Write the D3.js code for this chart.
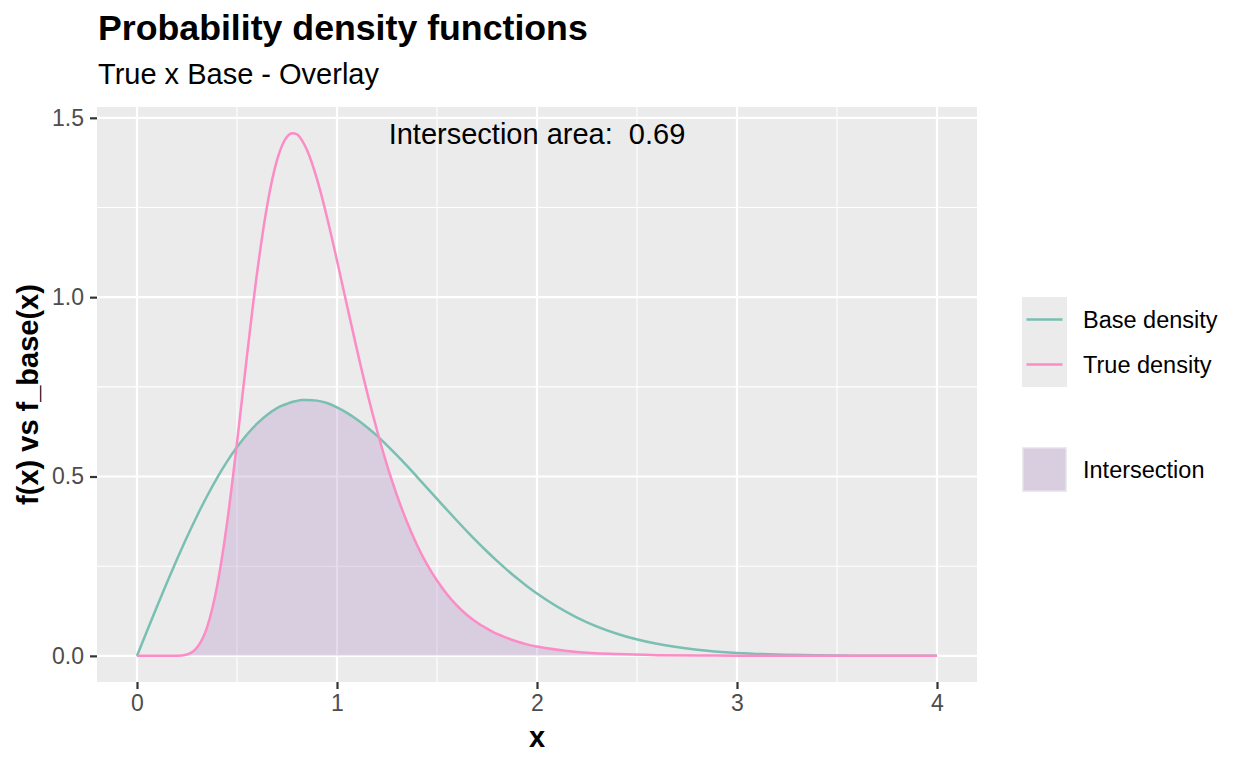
<!DOCTYPE html>
<html>
<head>
<meta charset="utf-8">
<script src="https://cdn.jsdelivr.net/npm/d3@7"></script>
<style>
  body { margin: 0; background: #fff; }
  text { font-family: "Liberation Sans", Arial, Helvetica, sans-serif; }
</style>
</head>
<body>
<div id="chart"></div>
<script>
// values
var xs = [0, 0.05, 0.1, 0.15, 0.2, 0.25, 0.3, 0.35, 0.4, 0.45, 0.5, 0.55, 0.6, 0.65, 0.7, 0.725, 0.75, 0.775, 0.8, 0.825, 0.85, 0.9, 0.95,
          1.0, 1.05, 1.1, 1.15, 1.2, 1.25, 1.3, 1.35, 1.4, 1.45, 1.5, 1.55, 1.6, 1.65, 1.7, 1.75, 1.8, 1.85, 1.9, 1.95,
          2.0, 2.2, 2.4, 2.6, 2.8, 3.0, 3.2, 3.4, 3.6, 3.8, 4.0];
var baseDens = [0, 0.0691, 0.1374, 0.2044, 0.2692, 0.3314, 0.3901, 0.4450, 0.4956, 0.5414, 0.5820, 0.6173, 0.6472, 0.6716, 0.6906, 0.6974, 0.7029, 0.7079, 0.7109, 0.7130, 0.7136, 0.7116, 0.7048,
          0.6929, 0.6776, 0.6590, 0.6376, 0.6140, 0.5867, 0.5587, 0.5294, 0.4991, 0.4684, 0.4376, 0.4068, 0.3767, 0.3471, 0.3184, 0.2909, 0.2646, 0.2397, 0.2162, 0.1943,
          0.1739, 0.1069, 0.0617, 0.0335, 0.0171, 0.0082, 0.0037, 0.0016, 0.0006, 0.0002, 0.0001];
var trueDens = [0, 0, 0, 0, 0.0003, 0.004, 0.023, 0.079, 0.193, 0.369, 0.594, 0.837, 1.066, 1.253, 1.382, 1.4225, 1.447, 1.4573, 1.454, 1.4371, 1.410, 1.329, 1.223,
          1.102, 0.977, 0.853, 0.736, 0.629, 0.532, 0.447, 0.373, 0.309, 0.255, 0.210, 0.172, 0.140, 0.114, 0.093, 0.076, 0.061, 0.050, 0.040, 0.032,
          0.026, 0.011, 0.005, 0.002, 0.001, 0.0004, 0.0002, 0.0001, 0, 0, 0];
var xTicks = [0, 1, 2, 3, 4];
var xMinor = [0.5, 1.5, 2.5, 3.5];
var yTicks = [0, 0.5, 1.0, 1.5];
var yMinor = [0.25, 0.75, 1.25];
var intersectionArea = 0.69;
var legendLines = ["Base density", "True density"];

var colBase = "#79bfb2", colTrue = "#fb8cc5", colFill = "#b497c8";

var W = 1248, H = 768;
var panel = { left: 97, right: 977, top: 107, bottom: 682 };

var data = xs.map(function(x, i) { return { x: x, base: baseDens[i], tru: trueDens[i] }; });

// ggplot-like 5% expansion
var xExt = d3.extent(xs);
var xPad = (xExt[1] - xExt[0]) * 0.05;
var yMax = d3.max(trueDens);
var yPad = yMax * 0.05;

var x = d3.scaleLinear().domain([xExt[0] - xPad, xExt[1] + xPad]).range([panel.left, panel.right]);
var y = d3.scaleLinear().domain([-yPad, yMax + yPad]).range([panel.bottom, panel.top]);

var svg = d3.select("#chart").append("svg")
    .attr("width", W).attr("height", H);

// panel background
svg.append("rect")
    .attr("x", panel.left).attr("y", panel.top)
    .attr("width", panel.right - panel.left).attr("height", panel.bottom - panel.top)
    .attr("fill", "#ebebeb");

// grid
var grid = svg.append("g");
xMinor.forEach(function(v) {
  grid.append("line").attr("x1", x(v)).attr("x2", x(v)).attr("y1", panel.top).attr("y2", panel.bottom)
      .attr("stroke", "#fff").attr("stroke-width", 1.1);
});
yMinor.forEach(function(v) {
  grid.append("line").attr("y1", y(v)).attr("y2", y(v)).attr("x1", panel.left).attr("x2", panel.right)
      .attr("stroke", "#fff").attr("stroke-width", 1.1);
});
xTicks.forEach(function(v) {
  grid.append("line").attr("x1", x(v)).attr("x2", x(v)).attr("y1", panel.top).attr("y2", panel.bottom)
      .attr("stroke", "#fff").attr("stroke-width", 2.2);
});
yTicks.forEach(function(v) {
  grid.append("line").attr("y1", y(v)).attr("y2", y(v)).attr("x1", panel.left).attr("x2", panel.right)
      .attr("stroke", "#fff").attr("stroke-width", 2.2);
});

// intersection = area under true curve clipped by area under base curve
var areaBase = d3.area().curve(d3.curveMonotoneX)
    .x(function(d) { return x(d.x); }).y0(y(0)).y1(function(d) { return y(d.base); });
var areaTrue = d3.area().curve(d3.curveMonotoneX)
    .x(function(d) { return x(d.x); }).y0(y(0)).y1(function(d) { return y(d.tru); });

svg.append("clipPath").attr("id", "clipBase")
  .append("path").datum(data).attr("d", areaBase);

svg.append("path").datum(data)
    .attr("d", areaTrue)
    .attr("clip-path", "url(#clipBase)")
    .attr("fill", colFill).attr("fill-opacity", 0.35);

var lineBase = d3.line().curve(d3.curveMonotoneX)
    .x(function(d) { return x(d.x); }).y(function(d) { return y(d.base); });
var lineTrue = d3.line().curve(d3.curveMonotoneX)
    .x(function(d) { return x(d.x); }).y(function(d) { return y(d.tru); });

svg.append("path").datum(data).attr("d", lineBase)
    .attr("fill", "none").attr("stroke", colBase).attr("stroke-width", 2.5);
svg.append("path").datum(data).attr("d", lineTrue)
    .attr("fill", "none").attr("stroke", colTrue).attr("stroke-width", 2.5);

// annotation
svg.append("text")
    .attr("x", x(2)).attr("y", y(yMax) + 11)
    .attr("text-anchor", "middle")
    .style("font-size", "29px").style("white-space", "pre").attr("fill", "#000")
    .text("Intersection area:  " + intersectionArea);

// axes
var xAxis = svg.append("g")
    .attr("transform", "translate(0," + panel.bottom + ")")
    .call(d3.axisBottom(x).tickValues(xTicks).tickSize(7).tickPadding(5).tickFormat(d3.format("d")));
var yAxis = svg.append("g")
    .attr("transform", "translate(" + panel.left + ",0)")
    .call(d3.axisLeft(y).tickValues(yTicks).tickSize(7).tickPadding(6).tickFormat(d3.format(".1f")));

[xAxis, yAxis].forEach(function(a) {
  a.select(".domain").remove();
  a.selectAll(".tick line").attr("stroke", "#333").attr("stroke-width", 2.2);
  a.selectAll(".tick text").attr("fill", "#4d4d4d").style("font-size", "23px");
});
xAxis.selectAll(".tick text").attr("dy", "0.75em");

// axis titles
svg.append("text")
    .attr("x", (panel.left + panel.right) / 2).attr("y", 747)
    .attr("text-anchor", "middle")
    .style("font-size", "29px").style("font-weight", "bold")
    .text("x");
svg.append("text")
    .attr("transform", "translate(38," + ((panel.top + panel.bottom) / 2) + ") rotate(-90)")
    .attr("text-anchor", "middle")
    .style("font-size", "29px").style("font-weight", "bold")
    .text("f(x) vs f_base(x)");

// titles
svg.append("text").attr("x", 98).attr("y", 40)
    .style("font-size", "35.7px").style("font-weight", "bold")
    .text("Probability density functions");
svg.append("text").attr("x", 98).attr("y", 84)
    .style("font-size", "29px")
    .text("True x Base - Overlay");

// legend
var legend = svg.append("g").attr("transform", "translate(1022,297)");
var keyW = 45, keyH = 45;
legendLines.forEach(function(lab, i) {
  var g = legend.append("g").attr("transform", "translate(0," + (i * keyH) + ")");
  g.append("rect").attr("width", keyW).attr("height", keyH).attr("fill", "#ebebeb");
  g.append("line").attr("x1", 4.5).attr("x2", keyW - 4.5).attr("y1", keyH / 2).attr("y2", keyH / 2)
      .attr("stroke", i === 0 ? colBase : colTrue).attr("stroke-width", 2.5);
  g.append("text").attr("x", 61).attr("y", keyH / 2).attr("dy", "0.35em")
      .style("font-size", "23.5px").text(lab);
});
var gFill = legend.append("g").attr("transform", "translate(0,150)");
gFill.append("rect").attr("width", keyW).attr("height", keyH).attr("fill", "#ebebeb");
gFill.append("rect").attr("x", 1.5).attr("y", 1.5).attr("width", keyW - 3).attr("height", keyH - 3)
    .attr("fill", colFill).attr("fill-opacity", 0.35);
gFill.append("text").attr("x", 61).attr("y", keyH / 2).attr("dy", "0.35em")
    .style("font-size", "23.5px").text("Intersection");
</script>
</body>
</html>
